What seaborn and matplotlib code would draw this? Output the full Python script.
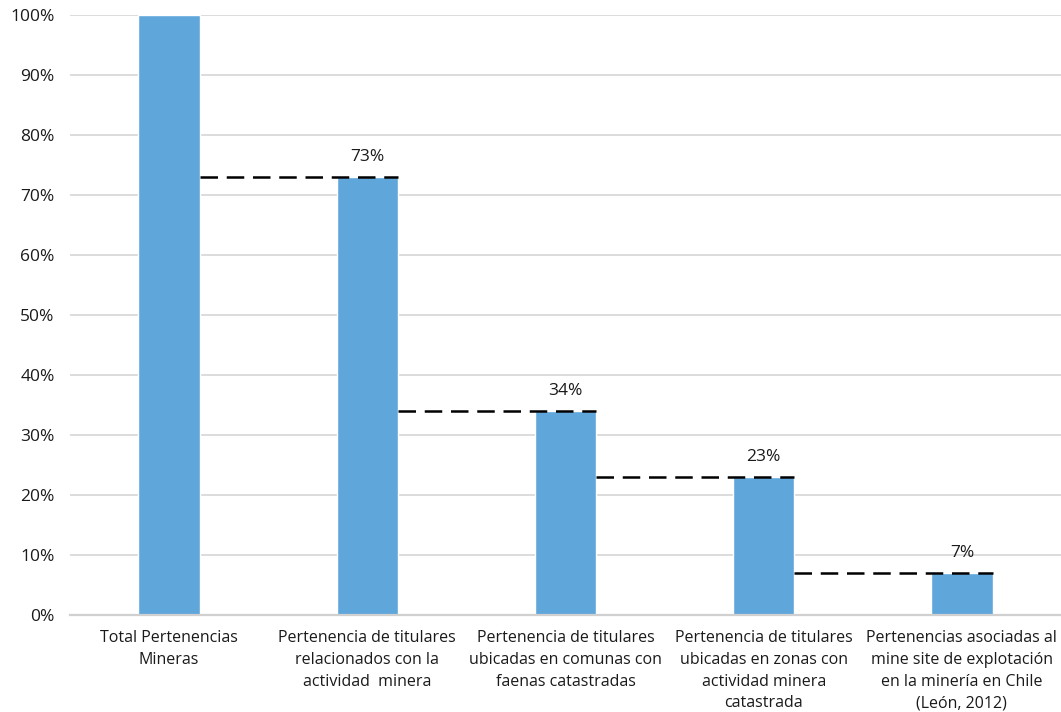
import matplotlib
matplotlib.use("Agg")
import matplotlib.pyplot as plt
import seaborn as sns
import pandas as pd
from matplotlib.ticker import PercentFormatter

categories = [
    "Total Pertenencias\nMineras",
    "Pertenencia de titulares\nrelacionados con la\nactividad  minera",
    "Pertenencia de titulares\nubicadas en comunas con\nfaenas catastradas",
    "Pertenencia de titulares\nubicadas en zonas con\nactividad minera\ncatastrada",
    "Pertenencias asociadas al\nmine site de explotación\nen la minería en Chile\n(León, 2012)",
]
values = [100, 73, 34, 23, 7]
value_labels = ["", "73%", "34%", "23%", "7%"]

sns.set_theme(style="white")
plt.rcParams["font.family"] = ["Open Sans", "DejaVu Sans"]

df = pd.DataFrame({"categoria": categories, "valor": values})

fig = plt.figure(figsize=(10.61, 7.12), dpi=100)
ax = fig.add_axes([0.066, 0.136, 0.934, 0.843])

bar_width = 0.31
bar_color = "#5fa6db"
sns.barplot(data=df, x="categoria", y="valor", color=bar_color,
            width=bar_width, saturation=1, ax=ax, zorder=2)

ax.set_ylim(0, 100)
ax.set_xlim(-0.5, len(categories) - 0.5)
ax.set_yticks(range(0, 101, 10))
ax.yaxis.set_major_formatter(PercentFormatter(decimals=0))
ax.grid(axis="y", color="#d9d9d9", linewidth=1.3, zorder=0)
ax.set_axisbelow(True)

for side in ["left", "right", "top"]:
    ax.spines[side].set_visible(False)
ax.spines["bottom"].set_color("#d0d0d0")
ax.spines["bottom"].set_linewidth(1.6)
ax.spines["bottom"].set_zorder(3)

ax.set_xlabel("")
ax.set_ylabel("")
ax.tick_params(axis="both", length=0, colors="#1a1a1a")
ax.tick_params(axis="y", pad=11, labelsize=12.5)
ax.tick_params(axis="x", pad=11, labelsize=11.5)
for lbl in ax.get_xticklabels():
    lbl.set_linespacing(1.47)

# Step connectors from the previous bar's right edge to the current bar
for i in range(1, len(values)):
    ax.hlines(values[i], i - 1 + bar_width / 2, i + bar_width / 2,
              colors="black", linestyles=(0, (7, 3.5)), linewidth=1.8, zorder=4)

for i, (v, txt) in enumerate(zip(values, value_labels)):
    if txt:
        ax.annotate(txt, (i, v), xytext=(0, 9), textcoords="offset points",
                    ha="center", va="bottom", fontsize=12.5, color="#1a1a1a")

fig.savefig("out.png", dpi=100, facecolor="white")
